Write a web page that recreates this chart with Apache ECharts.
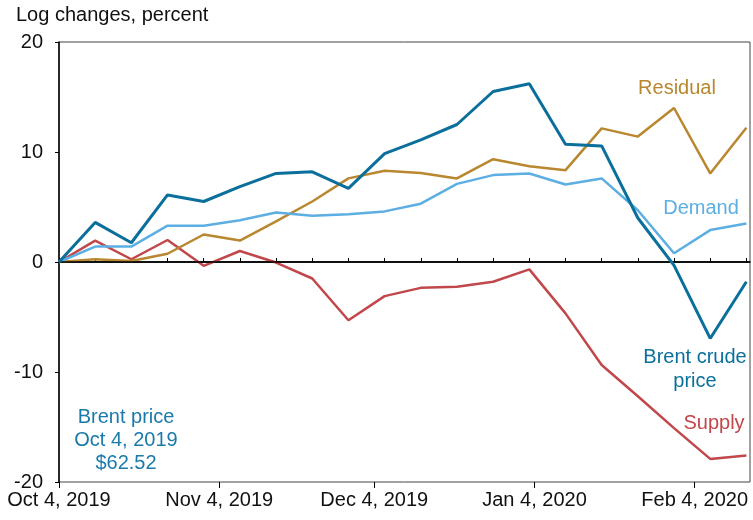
<!DOCTYPE html>
<html>
<head>
<meta charset="utf-8">
<script src="https://cdn.jsdelivr.net/npm/echarts@6/dist/echarts.min.js"></script>
<style>
  html, body { margin: 0; padding: 0; background: #fff; }
  #chart { width: 753px; height: 520px; }
</style>
</head>
<body>
<div id="chart"></div>
<script>
// weekly dates (Fridays)
var dates = ['2019-10-04', '2019-10-11', '2019-10-18', '2019-10-25', '2019-11-01',
  '2019-11-08', '2019-11-15', '2019-11-22', '2019-11-29', '2019-12-06',
  '2019-12-13', '2019-12-20', '2019-12-27', '2020-01-03', '2020-01-10',
  '2020-01-17', '2020-01-24', '2020-01-31', '2020-02-07', '2020-02-14'];

var brent = [0, 3.6, 1.75, 6.1, 5.5, 6.85, 8.05, 8.2, 6.7, 9.85,
  11.1, 12.5, 15.5, 16.2, 10.7, 10.55, 4.0, -0.3, -6.95, -1.8];
var demand = [0, 1.4, 1.4, 3.3, 3.3, 3.8, 4.5, 4.2, 4.35, 4.6,
  5.3, 7.1, 7.9, 8.05, 7.05, 7.6, 4.7, 0.8, 2.9, 3.5];
var residual = [0, 0.25, 0.1, 0.75, 2.5, 1.95, 3.7, 5.5, 7.6, 8.3,
  8.1, 7.6, 9.35, 8.7, 8.35, 12.15, 11.4, 14.0, 8.05, 12.2];
var supply = [0, 1.95, 0.25, 2.0, -0.35, 1.0, -0.05, -1.5, -5.3, -3.1,
  -2.35, -2.25, -1.8, -0.67, -4.67, -9.36, -12.2, -15.1, -17.9, -17.6];

var tickDates = ['2019-10-04', '2019-11-04', '2019-12-04', '2020-01-04', '2020-02-04'];
var tickLabels = ['Oct 4, 2019', 'Nov 4, 2019', 'Dec 4, 2019', 'Jan 4, 2020', 'Feb 4, 2020'];

var DAY = 86400000;
var start = Date.parse(dates[0]);
function dayOf(s) { return Math.round((Date.parse(s) - start) / DAY); }

var weekDays = dates.map(dayOf);
var majorDays = tickDates.map(dayOf);
var xMax = 133.7;

function pairs(vals) {
  return vals.map(function (v, i) { return [weekDays[i], v]; });
}

var font = 'Liberation Sans, Arial, sans-serif';
var fs = 20;
var cBrent = '#0b6f9c', cDemand = '#5daee2', cResid = '#b8872f', cSupply = '#c1474b';

var chart = echarts.init(document.getElementById('chart'), null, { renderer: 'canvas' });

var option = {
  animation: false,
  textStyle: { fontFamily: font },
  grid: {
    left: 59, right: 3, top: 42, bottom: 38,
    show: true, borderColor: '#444', borderWidth: 1
  },
  xAxis: [{
    type: 'value', min: 0, max: xMax,
    axisLine: { show: true, lineStyle: { color: '#000', width: 1.5 } },
    axisTick: { show: true, inside: true, length: 4, customValues: weekDays, lineStyle: { color: '#000', width: 1 } },
    axisLabel: { show: false },
    splitLine: { show: false }
  }, {
    type: 'value', min: 0, max: xMax, position: 'bottom',
    axisLine: { show: false },
    axisTick: { show: true, inside: false, length: 6, customValues: majorDays, lineStyle: { color: '#000', width: 1 } },
    axisLabel: {
      show: true, customValues: majorDays, margin: 8,
      fontSize: fs, color: '#111', fontFamily: font,
      formatter: function (v) { return tickLabels[majorDays.indexOf(Math.round(v))] || ''; }
    },
    splitLine: { show: false }
  }],
  yAxis: {
    type: 'value', min: -20, max: 20, interval: 10,
    axisLine: { show: true, lineStyle: { color: '#000', width: 1.5 } },
    axisTick: { show: true, length: 4, lineStyle: { color: '#000' } },
    axisLabel: { fontSize: fs, color: '#111', margin: 16, fontFamily: font },
    splitLine: { show: false }
  },
  series: [{
    name: 'Supply', type: 'line', data: pairs(supply), showSymbol: false,
    lineStyle: { color: cSupply, width: 2.5 }, z: 2,
    markLine: {
      silent: true, symbol: 'none', label: { show: false },
      lineStyle: { color: '#000', width: 1.5, type: 'solid' },
      data: [{ yAxis: 0 }]
    }
  }, {
    name: 'Residual', type: 'line', data: pairs(residual), showSymbol: false,
    lineStyle: { color: cResid, width: 2.5 }, z: 3
  }, {
    name: 'Demand', type: 'line', data: pairs(demand), showSymbol: false,
    lineStyle: { color: cDemand, width: 2.5 }, z: 4
  }, {
    name: 'Brent crude price', type: 'line', data: pairs(brent), showSymbol: false,
    lineStyle: { color: cBrent, width: 3 }, z: 5
  }],
  graphic: [
    { type: 'text', left: 16, top: 5, style: { text: 'Log changes, percent', font: fs + 'px ' + font, fill: '#111' } },
    { type: 'text', x: 677, y: 88, style: { text: 'Residual', font: fs + 'px ' + font, fill: cResid, textAlign: 'center', textVerticalAlign: 'middle' } },
    { type: 'text', x: 701, y: 208, style: { text: 'Demand', font: fs + 'px ' + font, fill: cDemand, textAlign: 'center', textVerticalAlign: 'middle' } },
    { type: 'text', x: 695, y: 369, style: { text: 'Brent crude\nprice', font: fs + 'px ' + font, lineHeight: 24, fill: cBrent, textAlign: 'center', textVerticalAlign: 'middle' } },
    { type: 'text', x: 714, y: 423, style: { text: 'Supply', font: fs + 'px ' + font, fill: cSupply, textAlign: 'center', textVerticalAlign: 'middle' } },
    { type: 'text', x: 126, y: 440, style: { text: 'Brent price\nOct 4, 2019\n$62.52', font: fs + 'px ' + font, lineHeight: 23, fill: '#1a7aaa', textAlign: 'center', textVerticalAlign: 'middle' } }
  ]
};

chart.setOption(option);
</script>
</body>
</html>
